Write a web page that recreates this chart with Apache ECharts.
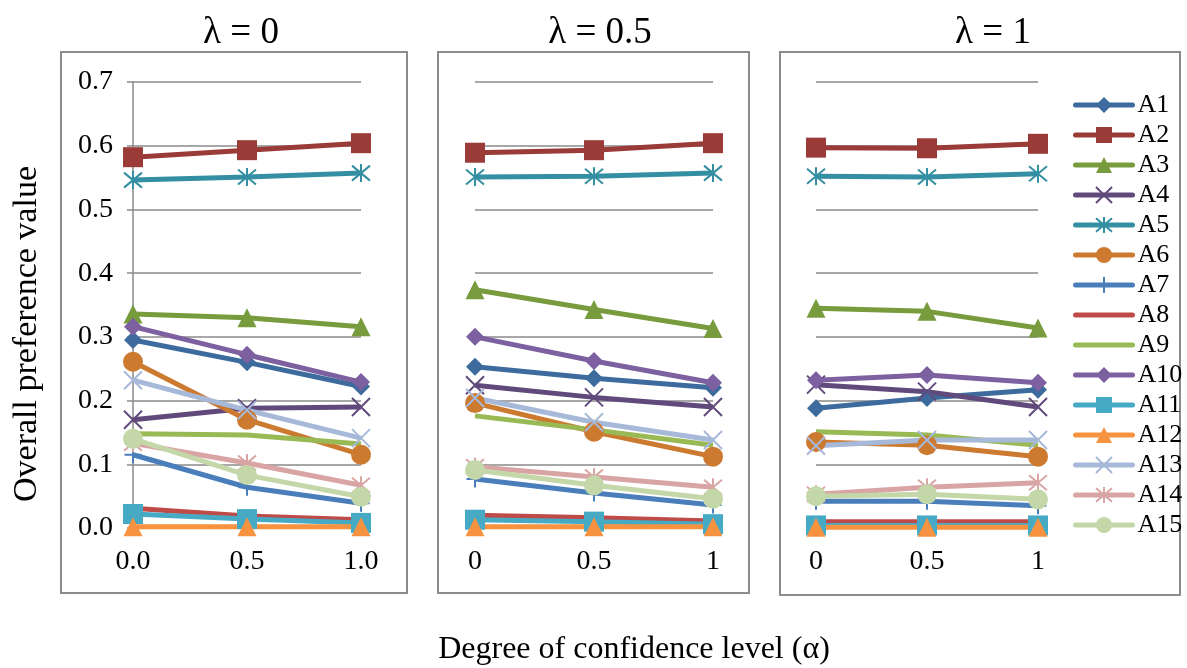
<!DOCTYPE html>
<html>
<head>
<meta charset="utf-8">
<script src="https://cdn.jsdelivr.net/npm/echarts@6/dist/echarts.min.js"></script>
<style>
  html, body { margin: 0; padding: 0; background: #fff; }
  #main { width: 1187px; height: 668px; }
</style>
</head>
<body>
<div id="main"></div>
<script>
// data
const names = ["A1", "A2", "A3", "A4", "A5", "A6", "A7", "A8", "A9", "A10", "A11", "A12", "A13", "A14", "A15"];
const alphaLabelsFirst = ["0.0", "0.5", "1.0"];
const alphaLabels = ["0", "0.5", "1"];
const panelTitles = ["λ = 0", "λ = 0.5", "λ = 1"];

// rows = A1..A15, columns = alpha 0, 0.5, 1
const lambda0 = [
  [0.295, 0.260, 0.222],
  [0.582, 0.593, 0.604],
  [0.336, 0.330, 0.316],
  [0.170, 0.188, 0.190],
  [0.546, 0.551, 0.557],
  [0.261, 0.170, 0.115],
  [0.115, 0.064, 0.039],
  [0.031, 0.019, 0.013],
  [0.148, 0.146, 0.132],
  [0.316, 0.272, 0.229],
  [0.022, 0.014, 0.008],
  [0.002, 0.002, 0.002],
  [0.232, 0.185, 0.141],
  [0.133, 0.102, 0.067],
  [0.140, 0.083, 0.049]
];
const lambda05 = [
  [0.253, 0.235, 0.220],
  [0.589, 0.593, 0.604],
  [0.374, 0.343, 0.313],
  [0.224, 0.205, 0.190],
  [0.551, 0.552, 0.557],
  [0.196, 0.151, 0.112],
  [0.077, 0.055, 0.036],
  [0.020, 0.016, 0.011],
  [0.176, 0.154, 0.130],
  [0.300, 0.262, 0.228],
  [0.013, 0.010, 0.006],
  [0.002, 0.002, 0.002],
  [0.204, 0.166, 0.138],
  [0.096, 0.080, 0.064],
  [0.091, 0.067, 0.046]
];
const lambda1 = [
  [0.188, 0.204, 0.217],
  [0.597, 0.596, 0.603],
  [0.345, 0.340, 0.314],
  [0.225, 0.214, 0.190],
  [0.552, 0.551, 0.556],
  [0.135, 0.130, 0.112],
  [0.042, 0.042, 0.035],
  [0.010, 0.010, 0.010],
  [0.151, 0.146, 0.130],
  [0.232, 0.240, 0.228],
  [0.004, 0.004, 0.004],
  [0.001, 0.001, 0.001],
  [0.129, 0.138, 0.138],
  [0.053, 0.064, 0.071],
  [0.050, 0.053, 0.045]
];
const panels = [lambda0, lambda05, lambda1];

const colors = ["#3d6b9e", "#9a3b38", "#779b3d", "#604a7b", "#358fa3", "#cd7a31", "#4a7ebb",
  "#be4b48", "#98b954", "#7d60a0", "#46aac5", "#f69240", "#a7b9d9", "#d9a5a4", "#c3d7a9"];

const X_PATH = "path://M0,0 L10,10 M10,0 L0,10";
const STAR_PATH = "path://M0,0 L10,10 M10,0 L0,10 M5,-1 L5,11";
const PLUS_PATH = "path://M5,0 L5,10 M0,5 L10,5";
const markers = [
  ["diamond", 18], ["rect", 20], ["triangle", 19], [X_PATH, 18], [STAR_PATH, 18],
  ["circle", 20], [PLUS_PATH, 17], ["none", 0], ["none", 0], ["diamond", 18],
  ["rect", 20], ["triangle", 19], [X_PATH, 18], [STAR_PATH, 18], ["circle", 20]
];

const serif = "Liberation Serif";
const gridLeft = [133, 475, 816];
const gridWidth = [228, 238, 222];
const boxes = [[61, 52, 346, 541], [438, 52, 311, 541], [780, 52, 400, 543]];
const titleX = [241, 600, 993];

const chart = echarts.init(document.getElementById("main"), null, { renderer: "canvas" });

const grids = [], xAxes = [], yAxes = [], series = [];
panels.forEach(function (rows, p) {
  grids.push({ left: gridLeft[p], width: gridWidth[p], top: 82, height: 446 });
  xAxes.push({
    type: "category", gridIndex: p, boundaryGap: false,
    data: p === 0 ? alphaLabelsFirst : alphaLabels,
    axisLine: { show: true, lineStyle: { color: "#8a8a8a", width: 1.5 } },
    axisTick: { show: false },
    axisLabel: { color: "#000", fontFamily: serif, fontSize: 28, margin: 20 },
    splitLine: { show: false }
  });
  yAxes.push({
    type: "value", gridIndex: p, min: 0, max: 0.7, interval: 0.1,
    axisLine: { show: p === 0, lineStyle: { color: "#8a8a8a", width: 1.5 } },
    axisTick: { show: p === 0, inside: false, length: 6, lineStyle: { color: "#8a8a8a", width: 1.5 } },
    axisLabel: {
      show: p === 0, color: "#000", fontFamily: serif, fontSize: 28, margin: 20,
      formatter: function (v) { return v.toFixed(1); }
    },
    splitLine: { show: true, lineStyle: { color: "#8a8a8a", width: 1.5 } }
  });
  rows.forEach(function (vals, i) {
    const stroke = markers[i][0].indexOf("path://") === 0;
    series.push({
      name: names[i], type: "line", xAxisIndex: p, yAxisIndex: p,
      data: vals, clip: false,
      symbol: markers[i][0], symbolSize: markers[i][1],
      showSymbol: markers[i][0] !== "none",
      color: colors[i],
      lineStyle: { color: colors[i], width: 5 },
      itemStyle: stroke
        ? { color: colors[i], borderColor: colors[i], borderWidth: 2 }
        : { color: colors[i], borderWidth: 0 },
      emphasis: { disabled: true },
      animation: false
    });
  });
});

const graphics = [];
boxes.forEach(function (b) {
  graphics.push({
    type: "rect", shape: { x: b[0], y: b[1], width: b[2], height: b[3] },
    style: { fill: null, stroke: "#8c8c8c", lineWidth: 2 }, z: -1
  });
});
panelTitles.forEach(function (t, p) {
  graphics.push({
    type: "text", x: titleX[p], y: 33,
    style: { text: t, font: "37px '" + serif + "'", fill: "#000", textAlign: "center", textVerticalAlign: "middle" }
  });
});
graphics.push({
  type: "text", x: 27, y: 334, rotation: Math.PI / 2,
  style: { text: "Overall preference value", font: "34px '" + serif + "'", fill: "#000", textAlign: "center", textVerticalAlign: "middle" }
});
graphics.push({
  type: "text", x: 634, y: 650,
  style: { text: "Degree of confidence level (α)", font: "32px '" + serif + "'", fill: "#000", textAlign: "center", textVerticalAlign: "middle" }
});

// legend entries; plain-line series get no marker in the legend
const legendData = names.map(function (n, i) {
  return markers[i][0] === "none" ? { name: n, itemStyle: { opacity: 0 } } : { name: n };
});

chart.setOption({
  animation: false,
  backgroundColor: "#fff",
  grid: grids,
  xAxis: xAxes,
  yAxis: yAxes,
  legend: {
    data: legendData, orient: "vertical", left: 1068, top: 87,
    itemWidth: 57, itemHeight: 20, itemGap: 4,
    lineStyle: { width: 5, cap: "round" },
    textStyle: { fontFamily: serif, fontSize: 26, color: "#000", lineHeight: 26 },
    selectedMode: false
  },
  graphic: graphics,
  series: series
});
</script>
</body>
</html>
